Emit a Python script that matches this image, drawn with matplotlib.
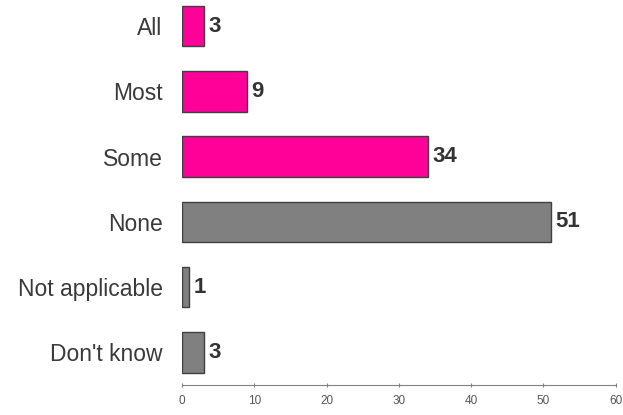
import matplotlib
matplotlib.use("Agg")
import matplotlib.pyplot as plt

plt.rcParams['font.family'] = ['Liberation Sans', 'DejaVu Sans']

# Data
categories = ['All', 'Most', 'Some', 'None', 'Not applicable', "Don't know"]
values = [3, 9, 34, 51, 1, 3]
bar_colors = ['#FF0099', '#FF0099', '#FF0099', '#808080', '#808080', '#808080']

fig = plt.figure(figsize=(6.23, 4.15), dpi=100)
ax = fig.add_axes([0.2921, 0.0723, 0.6962, 0.9277])

pos = list(range(len(categories)))
ax.barh(pos, values, height=0.62, color=bar_colors, edgecolor='#404040', linewidth=1)

for p, v in zip(pos, values):
    ax.text(v + 0.6, p, str(v), va='center', ha='left', fontsize=16,
            fontweight='bold', color='#333333')

ax.set_xlim(0, 60)
ax.set_ylim(5.5, -0.4)
ax.set_xticks(range(0, 61, 10))
ax.set_yticks(pos)
ax.set_yticklabels(categories, fontsize=16.5, color='#3a3a3a')
ax.tick_params(axis='y', length=0, pad=14)
ax.tick_params(axis='x', labelsize=8.5, colors='#808080', labelcolor='#555555',
               length=3, direction='inout', pad=6)

for s in ['top', 'right', 'left']:
    ax.spines[s].set_visible(False)
ax.spines['bottom'].set_color('#808080')

fig.savefig('out.png', dpi=100)
